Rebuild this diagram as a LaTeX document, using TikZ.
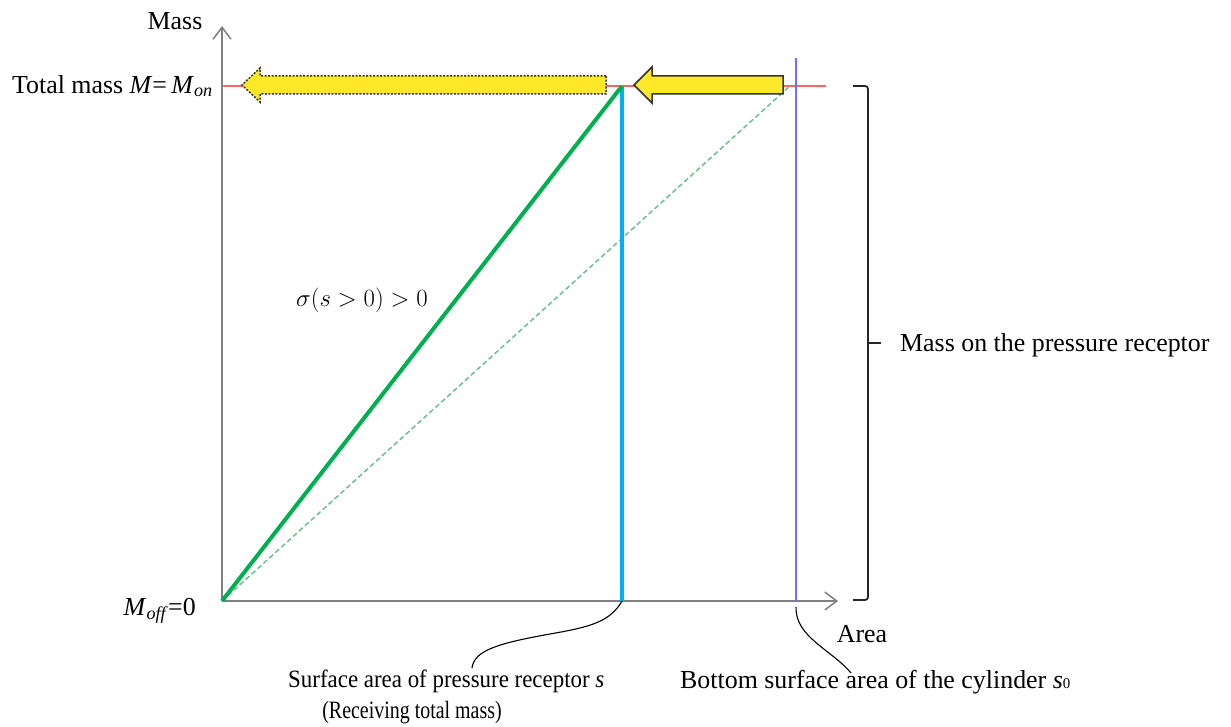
\documentclass[tikz,border=0pt]{standalone}
\usepackage{fontspec}
\setmainfont{Liberation Serif}
\usetikzlibrary{arrows.meta}
\definecolor{axisgray}{RGB}{128,128,128}
\definecolor{redline}{RGB}{255,100,100}
\definecolor{greenline}{RGB}{0,176,80}
\definecolor{dashgreen}{RGB}{110,190,140}
\definecolor{cyanline}{RGB}{0,176,240}
\definecolor{blueline}{RGB}{110,110,255}
\definecolor{arrowyellow}{RGB}{255,232,40}
\tikzset{
  axisline/.style={draw=axisgray, line width=1.8bp, -{Straight Barb[length=12bp,width=18bp,line width=1.5bp]}},
  lbl/.style={inner sep=0pt, font=\fontsize{26}{30}\selectfont},
  midlbl/.style={inner sep=0pt, font=\fontsize{25}{29}\selectfont},
  callout/.style={draw=black, line width=1.1bp},
  bigarrow/.style={fill=arrowyellow, draw=black!80, line width=1.5bp, line join=miter},
}
\begin{document}
\begin{tikzpicture}[x=1bp,y=-1bp]
\useasboundingbox (0,0) rectangle (1231,727);
\coordinate (O) at (222,601);
\coordinate (ytop) at (222,26);
\coordinate (xend) at (838,601);
\coordinate (top) at (622,86);
\coordinate (cbot) at (622,601);
\coordinate (btop) at (796,58);
\coordinate (bbot) at (796,601);
\coordinate (dtop) at (790,86);
\coordinate (redL) at (222,86);
\coordinate (redR) at (826,86);
% red line
\draw[redline, line width=1.5bp] (redL) -- (redR);
% axes
\draw[axisline] (O) -- (ytop);
\draw[axisline] (O) -- (xend);
% dashed diagonal
\draw[dashgreen, line width=1.5bp, dash pattern=on 5bp off 3bp] (O) -- (dtop);
% blue vertical
\draw[blueline, line width=1.8bp] (btop) -- (bbot);
% cyan vertical
\draw[cyanline, line width=4bp] (top) -- (cbot);
% green line
\draw[greenline, line width=4bp] (O) -- (top);
% yellow arrows
\draw[bigarrow, dash pattern=on 2bp off 1.5bp] (606,76) -- (260,76) -- (260,68) -- (242,85) -- (260,102) -- (260,94) -- (606,94) -- cycle;
\draw[bigarrow] (783,76) -- (652,76) -- (652,67) -- (634,85) -- (652,103) -- (652,94) -- (783,94) -- cycle;
% bracket
\draw[black!85, line width=1.8bp, rounded corners=3bp] (853,86) -- (868,86) -- (868,600) -- (853,600);
\draw[black!85, line width=1.8bp] (868,343) -- (881,343);
% labels
\node[lbl] (mass) at (175,21) {Mass};
\node[lbl, anchor=east] (total) at (213,86) {Total mass \textit{M}=\,\textit{M}\textsubscript{\textit{on}}};
\node[lbl, anchor=east] (moff) at (196,611) {\textit{M}\textsubscript{\textit{off}}=0};
\node[lbl] (area) at (862,634) {Area};
\node[midlbl] (sigma) at (362,300) {\fontsize{24}{28}\selectfont$\sigma(s>0)>0$};
\node[lbl, anchor=west] (onrec) at (900,345) {Mass on the pressure receptor};
\node[midlbl, anchor=west] (surf) at (288,681) {\scalebox{0.92}[1]{Surface area of pressure receptor \textit{s}}};
\node[midlbl] (recv) at (412,713) {\scalebox{0.8}[1]{(Receiving total mass)}};
\node[lbl, anchor=west] (bottom) at (680,682) {Bottom surface area of the cylinder \textit{s}{\fontsize{15}{18}\selectfont 0}};
% callout curves
\draw[callout] (cbot) .. controls (610,622) and (590,627) .. (550,634) .. controls (500,643) and (474,650) .. (472,668);
\draw[callout] (796,607) .. controls (795,637) and (832,650) .. (851,673);
\end{tikzpicture}
\end{document}
